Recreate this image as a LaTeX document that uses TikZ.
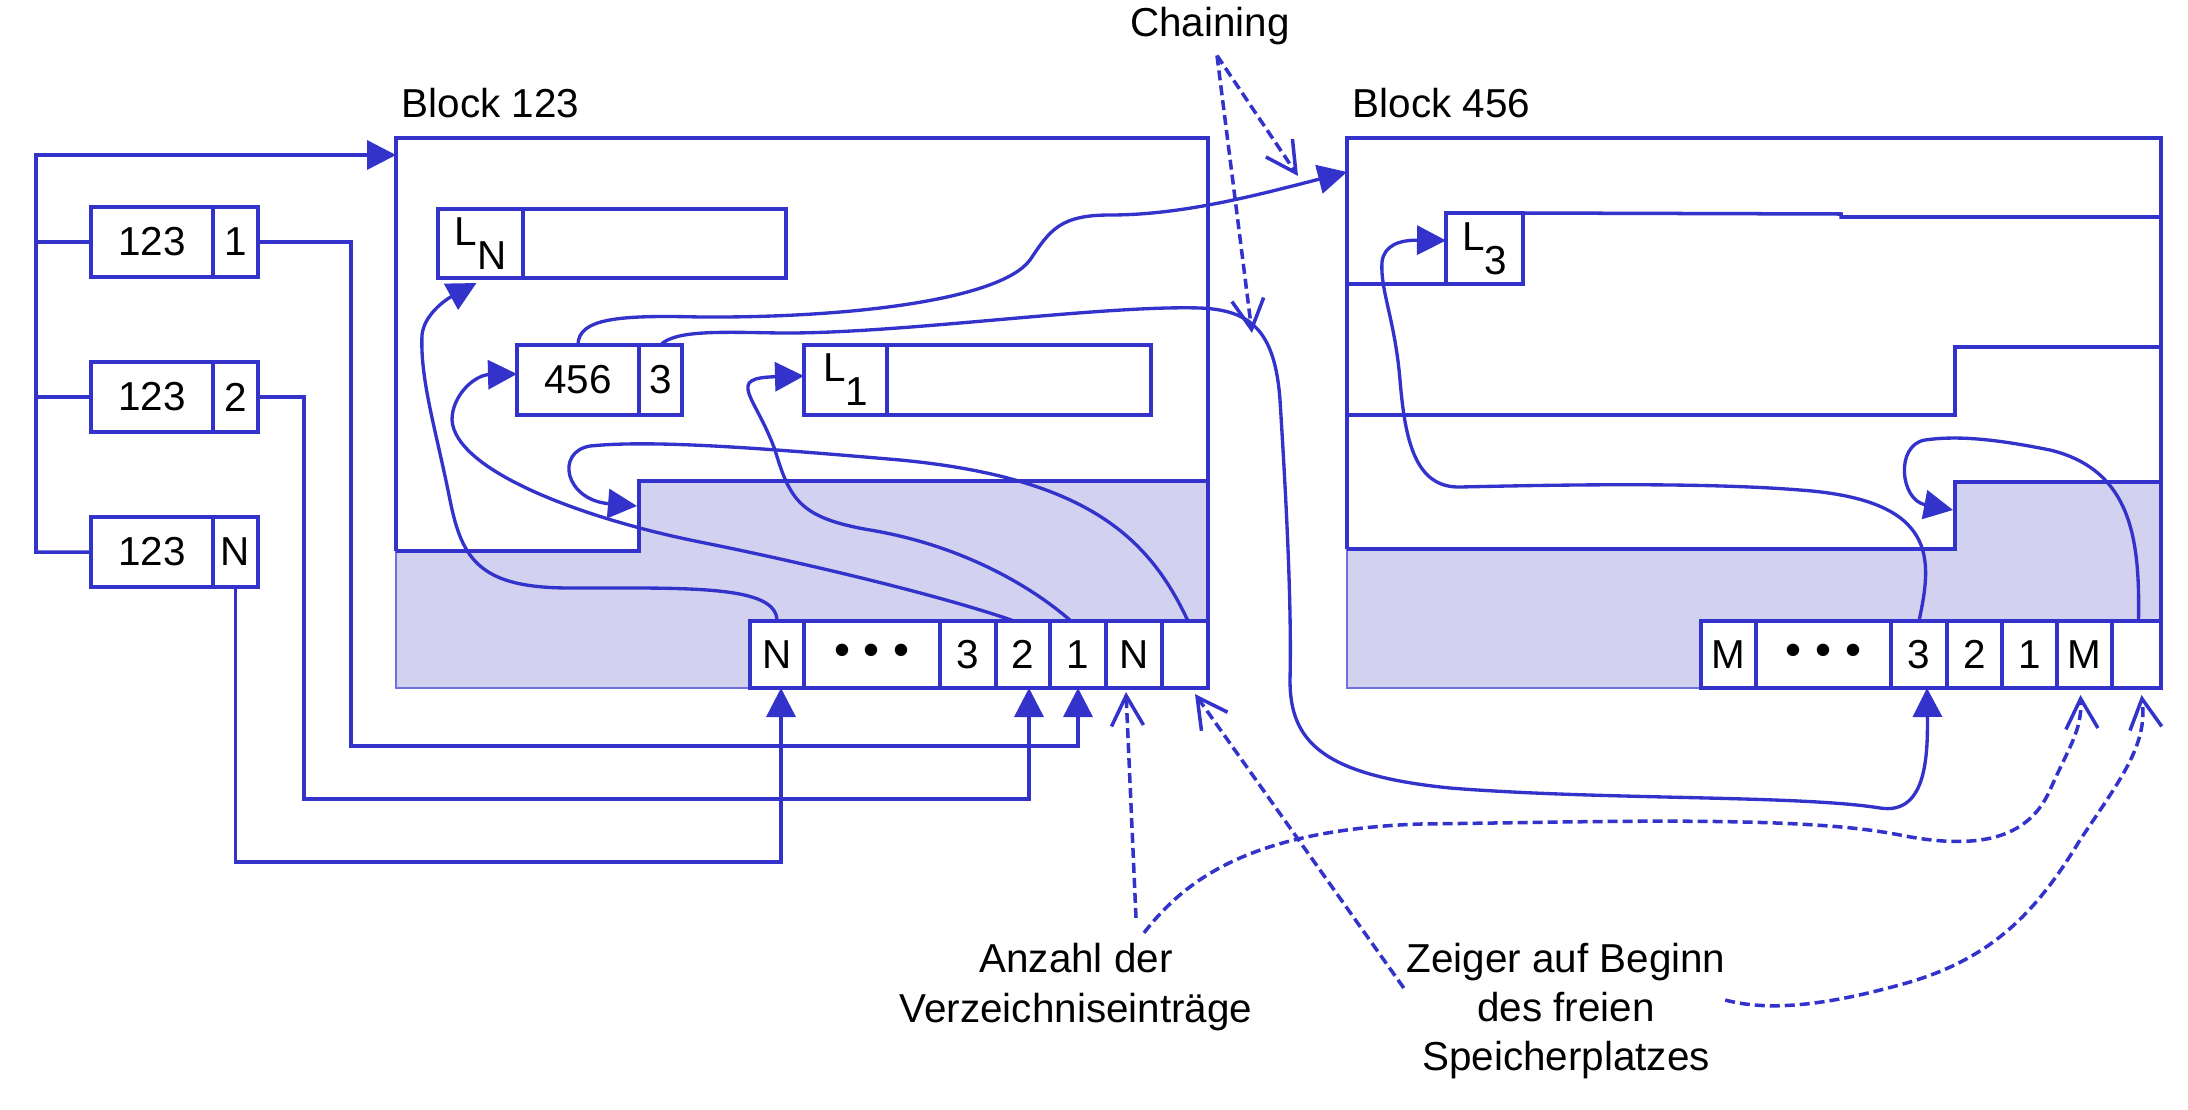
\documentclass[tikz,border=0pt]{standalone}
\usepackage{fontspec}
\setmainfont{Liberation Sans}
\usetikzlibrary{arrows.meta, positioning}
\definecolor{ink}{RGB}{51,51,204}
\definecolor{frei}{RGB}{210,210,240}
\newcommand\lsub[1]{\raisebox{-2.4mm}{#1}}
\newcommand\pdots{{\fontsize{13}{13}\selectfont •\hspace{1.4mm}•\hspace{1.4mm}•}}

\begin{document}
\begin{tikzpicture}[
      x=0.1mm, y=-0.1mm,
      node distance = 0pt,
      font=\fontsize{11.5}{14}\selectfont,
      wire/.style = {draw=ink, line width=1pt},
      cell/.style = {draw=ink, line width=1pt, fill=white, inner sep=0pt, outer sep=0pt,
                     minimum height=6.7mm, anchor=north west},
      fld/.style  = {cell, minimum height=7mm},
      blk/.style  = {inner sep=0pt, outer sep=0pt, anchor=north west, minimum height=55mm},
      edge/.style = {draw=ink!70, line width=0.5pt},
      ptr/.style  = {wire, line width=0.95pt, ->},
      hint/.style = {wire, dash pattern=on 1mm off 0.5mm,
                     -{Straight Barb[length=3mm,width=3.2mm]}},
      lbl/.style  = {align=center, inner sep=1mm},
      >={Triangle[length=2.9mm,width=2.9mm]}
    ]
    \useasboundingbox (0,0) rectangle (2188,1110);
    % Bloecke
    \node[blk, minimum width=81.2mm] (b123) at (396,138) {};
    \node[blk, minimum width=81.4mm] (b456) at (1347,138) {};
    \node[anchor=base west, inner sep=0pt] (t123) at (401,117) {Block 123};
    \node[anchor=base west, inner sep=0pt] (t456) at (1352,117) {Block 456};
    % freier Speicher
    \fill[frei] (396,551) -- (639,551) -- (639,481) -- (1208,481) -- (1208,688) -- (396,688) -- cycle;
    \fill[frei] (1347,549) -- (1955,549) -- (1955,482) -- (2161,482) -- (2161,688) -- (1347,688) -- cycle;
    \draw[edge] (396,551) |- (1208,688);
    \draw[edge] (1347,549) |- (2161,688);
    \draw[wire] (396,551) -- (639,551) -- (639,481) -- (1208,481);
    \draw[wire] (396,551) |- (1208,138) -- (1208,688);
    \draw[wire] (1347,549) -- (1955,549) -- (1955,482) -- (2161,482);
    \draw[wire] (1347,549) |- (2161,138) -- (2161,688);
    \draw[wire] (1347,415) -- (1955,415) -- (1955,347) -- (2161,347);
    % Verzeichnis (links)
    \node[fld, minimum width=12.2mm] (e1a) at (91,207) {123};
    \node[fld, minimum width=4.5mm, right=of e1a] (e1b) {1};
    \node[fld, minimum width=12.2mm] (e2a) at (91,362) {123};
    \node[fld, minimum width=4.5mm, right=of e2a] (e2b) {2};
    \node[fld, minimum width=12.2mm] (e3a) at (91,517) {123};
    \node[fld, minimum width=4.5mm, right=of e3a] (e3b) {N};
    % Saetze in Block 123
    \node[fld, minimum width=8.5mm, minimum height=6.9mm] (lNa) at (438,209) {L\lsub{N}};
    \node[fld, minimum width=26.3mm, minimum height=6.9mm, right=of lNa] (lNb) {};
    \node[fld, minimum width=12.2mm] (k456) at (517,345) {456};
    \node[fld, minimum width=4.3mm, right=of k456] (k3) {3};
    \node[fld, minimum width=8.3mm] (l1a) at (804,345) {L\lsub{1}};
    \node[fld, minimum width=26.4mm, right=of l1a] (l1b) {};
    % Satz in Block 456
    \node[fld, minimum width=7.7mm, minimum height=7.1mm] (l3) at (1446,213) {L\lsub{3}};
    \draw[wire] (l3.south west) -- ++(-9.9mm,0);
    \draw[wire] (l3.north east) -- (1841,214) -- (1841,217) -- (2161,217);
    % Zeigerliste Block 123
    \node[cell, minimum width=5.4mm] (cN) at (750,621) {N};
    \node[cell, minimum width=13.6mm, right=of cN] (cDots) {\pdots};
    \node[cell, minimum width=5.6mm, right=of cDots] (c3) {3};
    \node[cell, minimum width=5.4mm, right=of c3] (c2) {2};
    \node[cell, minimum width=5.6mm, right=of c2] (c1) {1};
    \node[cell, minimum width=5.6mm, right=of c1] (cNum) {N};
    \node[cell, minimum width=4.6mm, right=of cNum] (cFree) {};
    % Zeigerliste Block 456
    \node[cell, minimum width=5.5mm] (mM) at (1701,621) {M};
    \node[cell, minimum width=13.5mm, right=of mM] (mDots) {\pdots};
    \node[cell, minimum width=5.6mm, right=of mDots] (m3) {3};
    \node[cell, minimum width=5.5mm, right=of m3] (m2) {2};
    \node[cell, minimum width=5.5mm, right=of m2] (m1) {1};
    \node[cell, minimum width=5.5mm, right=of m1] (mNum) {M};
    \node[cell, minimum width=4.9mm, right=of mNum] (mFree) {};
    % Beschriftungen
    \node[lbl] (chain) at (1210,26) {Chaining};
    \node[lbl] (anz) at (1076,987) {Anzahl der\\Verzeichniseinträge};
    \node[lbl] (zeig) at (1566,1011) {Zeiger auf Beginn\\des freien\\Speicherplatzes};
    \coordinate (bus) at (36,155);
    \coordinate (free123) at (637,506);
    \coordinate (free456) at (1953,510);
    \coordinate (chainA) at (1298,176);
    \coordinate (chainB) at (1252,333);
    % Verzeichnis -> Block 123
    \draw[wire, ->] (e3a.west) -| (bus) -- ([yshift=-1.7mm]b123.north west);
    \draw[wire] (e1a.west) -- (e1a.west -| bus);
    \draw[wire] (e2a.west) -- (e2a.west -| bus);
    \draw[wire, ->] (e1b.east) -- ++(9.3mm,0) |- ([yshift=-5.8mm]c1.south) -- (c1.south);
    \draw[wire, ->] (e2b.east) -- ++(4.6mm,0) |- ([xshift=0.6mm,yshift=-11.1mm]c2.south)
          -- ([xshift=0.6mm]c2.south);
    \draw[wire, ->] (e3b.south) |- ([xshift=0.4mm,yshift=-17.4mm]cN.south) -- ([xshift=0.4mm]cN.south);
    % Zeiger in Block 123
    \draw[ptr] (cN.north) .. controls (777,585) and (690,588) .. (570,588)
          .. controls (480,588) and (462,560) .. (450,500)
          .. controls (436,430) and (420,380) .. (422,335)
          .. controls (424,315) and (445,300) .. ([xshift=-0.4mm,yshift=-0.5mm]lNa.south);
    \draw[ptr] ([xshift=-0.9mm]c2.north) .. controls (940,595) and (800,562) .. (700,542)
          .. controls (580,518) and (455,470) .. (452,420)
          .. controls (452,395) and (475,375) .. ([yshift=0.6mm]k456.west);
    \draw[ptr] ([xshift=-0.7mm]c1.north) .. controls (1030,585) and (960,545) .. (870,530)
          .. controls (800,518) and (790,500) .. (775,450)
          .. controls (755,395) and (725,378) .. ([yshift=0.4mm]l1a.west);
    \draw[ptr] ([xshift=0.3mm]cFree.north) .. controls (1150,540) and (1090,478) .. (900,460)
          .. controls (750,447) and (650,440) .. (590,446)
          .. controls (555,452) and (565,500) .. (free123);
    % Verkettung
    \draw[ptr] (k456.north) .. controls (578,318) and (620,315) .. (700,317)
          .. controls (850,318) and (1000,300) .. (1030,260)
          .. controls (1050,230) and (1060,215) .. (1110,215)
          .. controls (1180,215) and (1250,197) .. ([yshift=-3.4mm]b456.north west);
    \draw[ptr] (k3.north) .. controls (675,330) and (720,332) .. (780,333)
          .. controls (900,334) and (1100,305) .. (1200,308)
          .. controls (1250,310) and (1275,330) .. (1280,400)
          .. controls (1285,480) and (1292,600) .. (1290,680)
          .. controls (1290,740) and (1320,775) .. (1450,788)
          .. controls (1600,800) and (1800,795) .. (1880,808)
          .. controls (1925,815) and (1928,760) .. ([xshift=0.8mm]m3.south);
    % Zeiger in Block 456
    \draw[ptr] (m3.north) .. controls (1932,560) and (1940,500) .. (1800,490)
          .. controls (1700,482) and (1550,485) .. (1460,487)
          .. controls (1415,488) and (1405,440) .. (1400,380)
          .. controls (1395,320) and (1380,290) .. (1382,262)
          .. controls (1384,245) and (1400,240) .. ([yshift=0.8mm]l3.west);
    \draw[ptr] ([xshift=0.2mm]mFree.north) .. controls (2140,540) and (2132,470) .. (2050,450)
          .. controls (2000,440) and (1960,435) .. (1925,440)
          .. controls (1895,445) and (1900,500) .. (free456);
    % Hinweise
    \draw[hint] ([xshift=0.7mm]chain.south) -- (chainA);
    \draw[hint] ([xshift=0.7mm]chain.south) -- (chainB);
    \draw[hint] ([xshift=6mm,yshift=1.5mm]anz.north) -- ([xshift=-0.8mm,yshift=-0.4mm]cNum.south);
    \draw[hint] ([xshift=6.8mm]anz.north) .. controls (1185,880) and (1250,830) .. (1420,824)
          .. controls (1600,822) and (1800,815) .. (1900,835)
          .. controls (1985,852) and (2030,835) .. (2050,790)
          .. controls (2070,745) and (2082,730) .. ([xshift=-0.4mm,yshift=-0.7mm]mNum.south);
    \draw[hint] ([xshift=0.8mm,yshift=2.3mm]zeig.west) -- ([xshift=1mm,yshift=-0.6mm]cFree.south);
    \draw[hint] ([xshift=-1.1mm,yshift=1.1mm]zeig.east) .. controls (1770,1012) and (1830,1005) .. (1910,982)
          .. controls (1990,958) and (2035,915) .. (2080,840)
          .. controls (2120,780) and (2148,745) .. ([xshift=0.5mm,yshift=-0.7mm]mFree.south);
  \end{tikzpicture}
\end{document}
